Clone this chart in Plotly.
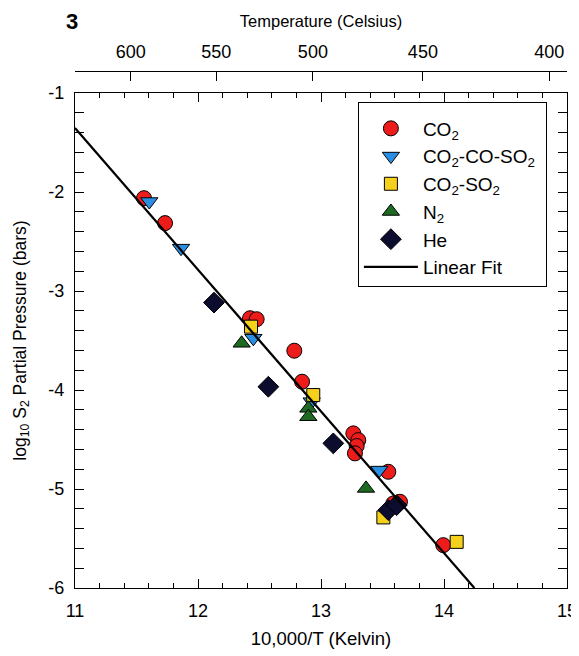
import plotly.graph_objects as go

# ---- data ----
co2_x = [11.561, 11.732, 12.423, 12.477, 12.783, 12.846, 13.263, 13.303, 13.290, 13.276, 13.547, 13.588, 13.642, 13.994]
co2_y = [-2.062, -2.314, -3.275, -3.285, -3.603, -3.916, -4.438, -4.506, -4.566, -4.640, -4.826, -5.146, -5.129, -5.567]

cocoso_x = [11.604, 11.862, 12.450, 12.924, 13.474]
cocoso_y = [-2.096, -2.567, -3.477, -4.118, -4.809]

coso_x = [12.431, 12.937, 13.507, 14.103]
coso_y = [-3.360, -4.051, -5.287, -5.534]

n2_x = [12.355, 12.897, 12.897, 13.366]
n2_y = [-3.528, -4.185, -4.270, -4.994]

he_x = [12.130, 12.572, 13.100, 13.547, 13.615]
he_y = [-3.117, -3.967, -4.539, -5.213, -5.163]

fit_x = [11.0, 14.247]
fit_y = [-1.354, -6.0]

x_ticks = [11, 12, 13, 14, 15]
x_ticklabels = ["11", "12", "13", "14", "15"]
y_ticks = [-1, -2, -3, -4, -5, -6]
y_ticklabels = ["-1", "-2", "-3", "-4", "-5", "-6"]
temp_c = [600, 550, 500, 450, 400]
temp_labels = ["600", "550", "500", "450", "400"]

# ---- styling ----
FONT = "Arial, Liberation Sans, sans-serif"
line_k = dict(color="black", width=1)

fig = go.Figure()
fig.add_trace(go.Scatter(x=co2_x, y=co2_y, mode="markers", name="CO<sub>2</sub>",
                         marker=dict(symbol="circle", size=15, color="#ee1b1b", line=line_k)))
fig.add_trace(go.Scatter(x=cocoso_x, y=cocoso_y, mode="markers", name="CO<sub>2</sub>-CO-SO<sub>2</sub>\u00a0",
                         marker=dict(symbol="triangle-down", size=15, color="#2a8fe3", line=line_k)))
fig.add_trace(go.Scatter(x=coso_x, y=coso_y, mode="markers", name="CO<sub>2</sub>-SO<sub>2</sub>",
                         marker=dict(symbol="square", size=13, color="#f6d11c", line=line_k)))
fig.add_trace(go.Scatter(x=n2_x, y=n2_y, mode="markers", name="N<sub>2</sub>",
                         marker=dict(symbol="triangle-up", size=15, color="#1f6a22", line=line_k)))
fig.add_trace(go.Scatter(x=he_x, y=he_y, mode="markers", name="He",
                         marker=dict(symbol="diamond", size=16, color="#0c0c2e", line=line_k)))
fig.add_trace(go.Scatter(x=fit_x, y=fit_y, mode="lines", name="Linear Fit",
                         line=dict(color="black", width=2.2)))

# helper trace so the top (temperature) axis exists
top_pos = [10000.0 / (t + 273.15) for t in temp_c]
fig.add_trace(go.Scatter(x=top_pos, y=[-1] * len(top_pos), xaxis="x2", mode="markers",
                         marker=dict(opacity=0), showlegend=False, hoverinfo="skip"))

axis_common = dict(showline=True, linecolor="black", linewidth=1.3, showgrid=False, zeroline=False,
                   ticks="inside", ticklen=9, tickwidth=1.2, tickcolor="black", automargin=False,
                   tickfont=dict(family=FONT, size=18, color="black"))

# the page body adds an 8px offset, so the figure is 8px smaller than the window
fig.update_layout(
    width=571, height=648,
    margin=dict(l=67, r=12, t=63, b=68),
    paper_bgcolor="white", plot_bgcolor="white",
    font=dict(family=FONT, color="black"),
    xaxis=dict(range=[11, 15], domain=[0, 1], anchor="y", mirror="allticks",
               tickvals=x_ticks, ticktext=x_ticklabels, ticklabelstandoff=6,
               minor=dict(dtick=0.2, tick0=11, ticks="inside", ticklen=5, tickcolor="black"),
               title=dict(text="10,000/T (Kelvin)", font=dict(family=FONT, size=18.5), standoff=12),
               **axis_common),
    yaxis=dict(range=[-6, -1], domain=[0, 0.9574], anchor="x", mirror="allticks",
               tickvals=y_ticks, ticktext=y_ticklabels, ticklabelstandoff=6,
               minor=dict(dtick=0.2, tick0=-1, ticks="inside", ticklen=5, tickcolor="black"),
               title=dict(text="log<sub>10</sub> S<sub>2</sub> Partial Pressure (bars)",
                          font=dict(family=FONT, size=17.5), standoff=17),
               **axis_common),
    xaxis2=dict(range=[11, 15], overlaying="x", anchor="free", position=1, side="top",
                tickvals=top_pos, ticktext=temp_labels, ticklabelstandoff=6,
                title=dict(text="Temperature (Celsius)", font=dict(family=FONT, size=16.5), standoff=8),
                **axis_common),
    legend=dict(x=0.575, y=0.94, xanchor="left", yanchor="top",
                bordercolor="black", borderwidth=1, bgcolor="white",
                font=dict(family=FONT, size=19, color="black"),
                title=dict(text=" ", font=dict(size=5)),
                itemwidth=54, tracegroupgap=0),
    showlegend=True,
)

fig.add_annotation(text="<b>3</b>", xref="paper", yref="paper", x=-0.022, y=1.124,
                   showarrow=False, font=dict(family=FONT, size=22, color="black"))

fig.write_html("out.html")
